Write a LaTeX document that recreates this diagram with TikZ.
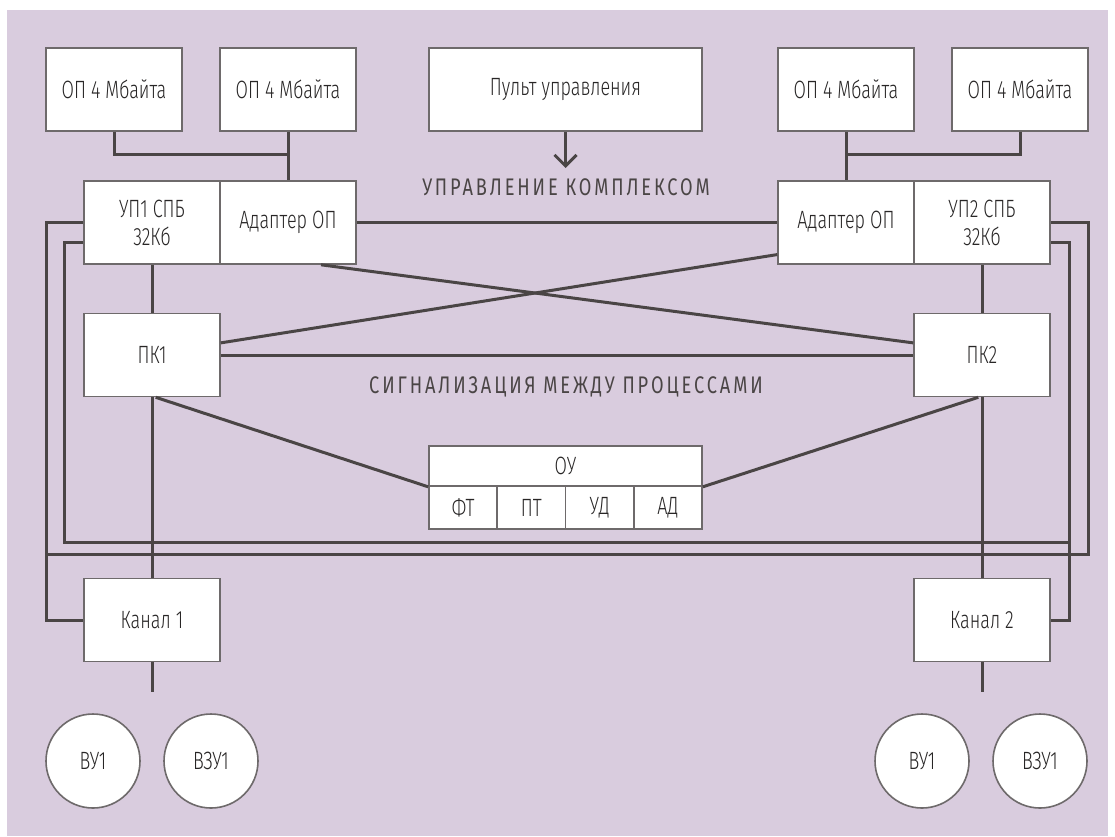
\documentclass[tikz,border=0pt]{standalone}
\usepackage{fontspec}
\setmainfont{Fira Sans}[UprightFont=* Light,FakeStretch=0.72]
\newfontfamily\capfont{Fira Sans}[FakeStretch=0.76,LetterSpace=12]
\usepackage{tikz}
\usetikzlibrary{arrows.meta}
\definecolor{fon}{RGB}{217,204,222}
\definecolor{liniya}{RGB}{74,69,69}
\definecolor{kontur}{RGB}{110,106,107}
\definecolor{tekst}{RGB}{40,38,38}

\begin{document}
\begin{tikzpicture}[x=1pt,y=-1pt,
blok/.style={draw=kontur,line width=1.6pt,fill=white,minimum width=136pt,minimum height=83pt,inner sep=0pt,align=center,text=tekst,font=\fontsize{25}{28}\selectfont},
yach/.style={blok,minimum width=68.25pt,minimum height=43pt},
krug/.style={blok,circle,minimum size=94pt},
svyaz/.style={draw=liniya,line width=3pt},
podpis/.style={text=liniya,font=\capfont\fontsize{24}{27}\selectfont}]
\useasboundingbox(0,0)rectangle(1115,836);
\fill[fon](7,10)rectangle(1108,836);
\node[blok](op1)at(114,89.5){ОП 4 Мбайта};\node[blok](op2)at(288,89.5){ОП 4 Мбайта};
\node[blok,minimum width=273pt](pult)at(565.5,89.5){Пульт управления};
\node[blok](op3)at(846,89.5){ОП 4 Мбайта};\node[blok](op4)at(1020,89.5){ОП 4 Мбайта};
\node[blok](up1)at(152,222.5){УП1 СПБ\\32Кб};\node[blok](adl)at(288,222.5){Адаптер ОП};
\node[blok](adr)at(846,222.5){Адаптер ОП};\node[blok](up2)at(982,222.5){УП2 СПБ\\32Кб};
\node[blok](pk1)at(152,355){ПК1};\node[blok](pk2)at(982,355){ПК2};
\node[blok,minimum width=273pt,minimum height=40pt](ou)at(565.5,466){ОУ};
\foreach\t[count=\i]in{ФТ,ПТ,УД,АД}{\node[yach](ou\i)at({429+68.25*(\i-0.5)},507.5){\t};}
\node[blok](kan1)at(152,620){Канал 1};\node[blok](kan2)at(982,620){Канал 2};
\node[krug](vu1)at(93,761){ВУ1};\node[krug](vzu1)at(211,761){ВЗУ1};
\node[krug](vu2)at(922,761){ВУ1};\node[krug](vzu2)at(1040,761){ВЗУ1};
\node[podpis](upr)at(566,187){УПРАВЛЕНИЕ КОМПЛЕКСОМ};
\node[podpis](sig)at(566,387){СИГНАЛИЗАЦИЯ МЕЖДУ ПРОЦЕССАМИ};
\coordinate(jl)at(288,154);\coordinate(jr)at(846,154);\coordinate(strel)at(565.5,168);
\coordinate(k1)at(152,692);\coordinate(k2)at(982,692);
\coordinate(ba)at(46,554);\coordinate(bar)at(1088,554);\coordinate(bb)at(64,542);\coordinate(bbr)at(1069,542);
\draw[svyaz](op1.south)|-(jl);\draw[svyaz](op2.south)--(adl.north);
\draw[svyaz](op4.south)|-(jr);\draw[svyaz](op3.south)--(adr.north);
\draw[svyaz,-{Straight Barb[length=11pt,width=22pt]}](pult.south)--(strel);
\draw[svyaz](adl.east)--(adr.west);
\draw[svyaz](adl.-52)--(pk2.170);\draw[svyaz](adr.205)--(pk1.10);
\draw[svyaz](pk1.east)--(pk2.west);
\draw[svyaz](pk1.-85)--(ou.south west);\draw[svyaz](pk2.-95)--(ou.south east);
\draw[svyaz](up1)--(pk1);\draw[svyaz](pk1)--(kan1);\draw[svyaz](kan1.south)--(k1);
\draw[svyaz](up2)--(pk2);\draw[svyaz](pk2)--(kan2);\draw[svyaz](kan2.south)--(k2);
\draw[svyaz](up1.west)-|(ba)|-(kan1.west);\draw[svyaz](ba)--(bar)|-(up2.east);
\draw[svyaz](up1.196)-|(bb)--(bbr);\draw[svyaz](up2.-16)-|(bbr)|-(kan2.east);
\end{tikzpicture}
\end{document}
